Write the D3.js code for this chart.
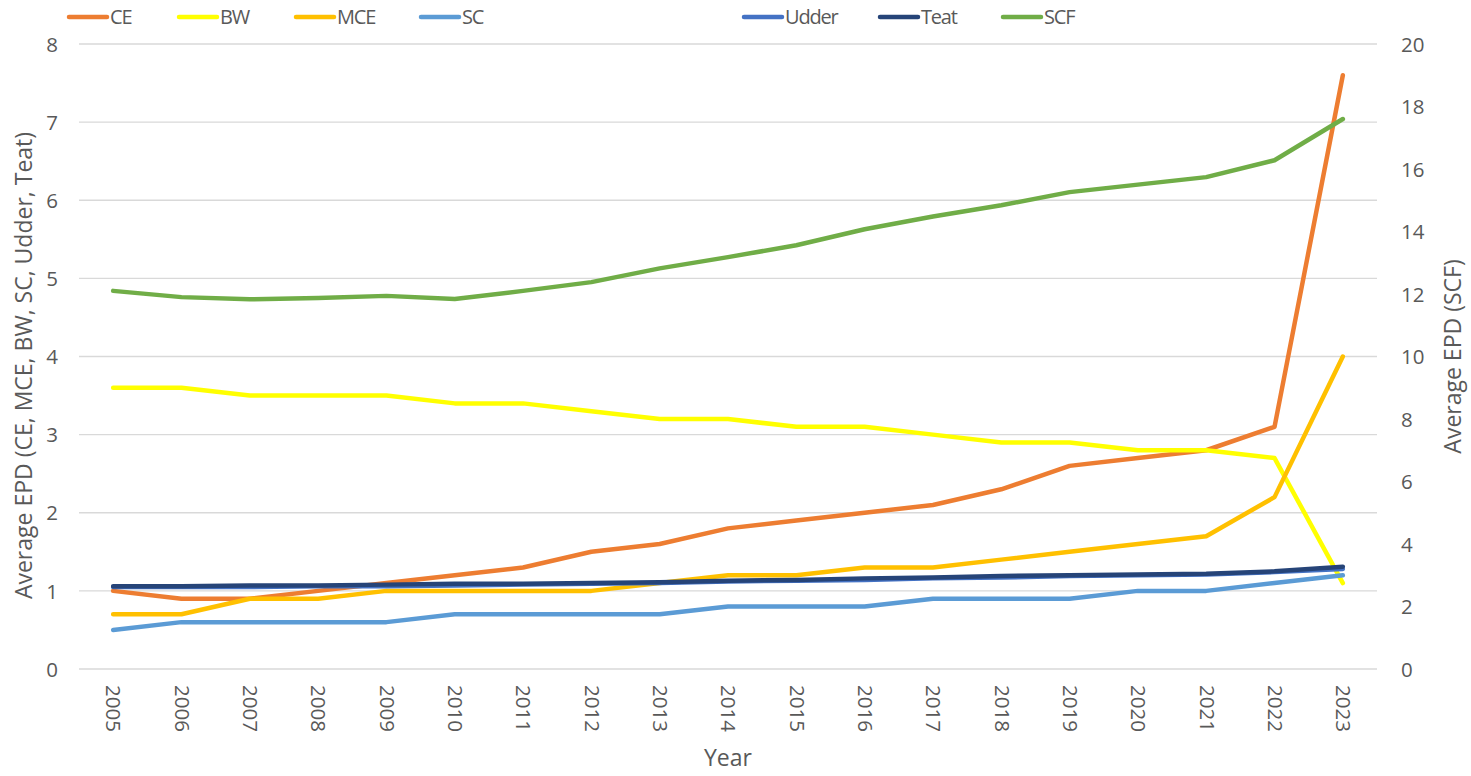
<!DOCTYPE html>
<html>
<head>
<meta charset="utf-8">
<script src="https://cdn.jsdelivr.net/npm/d3@7"></script>
<style>
  body { margin: 0; background: #fff; }
  text { font-family: "Open Sans", "Noto Sans", sans-serif; fill: #595959; }
</style>
</head>
<body>
<svg id="chart"></svg>
<script>
var width = 1471;
var height = 776;

var years = ['2005','2006','2007','2008','2009','2010','2011','2012','2013','2014',
             '2015','2016','2017','2018','2019','2020','2021','2022','2023'];

var ce    = [1.0,0.9,0.9,1.0,1.1,1.2,1.3,1.5,1.6,1.8,1.9,2.0,2.1,2.3,2.6,2.7,2.8,3.1,7.6];
var bw    = [3.6,3.6,3.5,3.5,3.5,3.4,3.4,3.3,3.2,3.2,3.1,3.1,3.0,2.9,2.9,2.8,2.8,2.7,1.1];
var mce   = [0.7,0.7,0.9,0.9,1.0,1.0,1.0,1.0,1.1,1.2,1.2,1.3,1.3,1.4,1.5,1.6,1.7,2.2,4.0];
var sc    = [0.5,0.6,0.6,0.6,0.6,0.7,0.7,0.7,0.7,0.8,0.8,0.8,0.9,0.9,0.9,1.0,1.0,1.1,1.2];
var udder = [1.05,1.05,1.05,1.06,1.06,1.07,1.08,1.09,1.10,1.12,1.13,1.14,1.16,1.17,1.19,1.20,1.21,1.24,1.28];
var teat  = [1.06,1.06,1.07,1.07,1.08,1.09,1.09,1.10,1.11,1.13,1.14,1.16,1.17,1.19,1.20,1.21,1.22,1.25,1.31];
var scf   = [12.1,11.9,11.83,11.87,11.94,11.84,12.1,12.38,12.82,13.18,13.56,14.07,14.48,14.84,15.26,15.5,15.74,16.28,17.6];

var leftTicks = [0,1,2,3,4,5,6,7,8];
var rightTicks = [0,2,4,6,8,10,12,14,16,18,20];

var series = [
  {name:'CE', values:ce, color:'#ED7D31', axis:'left'},
  {name:'BW', values:bw, color:'#FFFF00', axis:'left'},
  {name:'MCE', values:mce, color:'#FFC000', axis:'left'},
  {name:'SC', values:sc, color:'#5B9BD5', axis:'left'},
  {name:'Udder', values:udder, color:'#4472C4', axis:'left'},
  {name:'Teat', values:teat, color:'#264478', axis:'left'},
  {name:'SCF', values:scf, color:'#70AD47', axis:'right'}
];
// legend line start positions
var legendX = [69, 179, 296, 421, 744, 880, 1003];

var plotLeft = 79, plotRight = 1377, plotTop = 44, plotBottom = 669;

var svg = d3.select('#chart').attr('width', width).attr('height', height);

var x = d3.scalePoint().domain(years).range([plotLeft, plotRight]).padding(0.5);
var yL = d3.scaleLinear().domain([0, 8]).range([plotBottom, plotTop]);
var yR = d3.scaleLinear().domain([0, 20]).range([plotBottom, plotTop]);

// gridlines
svg.append('g').selectAll('line').data(leftTicks).enter().append('line')
  .attr('x1', plotLeft).attr('x2', plotRight)
  .attr('y1', function(d){ return yL(d); }).attr('y2', function(d){ return yL(d); })
  .style('stroke', '#d9d9d9').style('stroke-width', 1.3);

// left axis
var gl = svg.append('g').attr('transform', 'translate(' + (plotLeft - 21) + ',0)')
  .call(d3.axisLeft(yL).tickValues(leftTicks).tickSize(0).tickPadding(0));
gl.select('.domain').remove();
gl.selectAll('text').style('font-size', '20.5px').style('fill', '#595959').attr('dy', '0.35em');

// right axis
var gr = svg.append('g').attr('transform', 'translate(' + (plotRight + 24) + ',0)')
  .call(d3.axisRight(yR).tickValues(rightTicks).tickSize(0).tickPadding(0));
gr.select('.domain').remove();
gr.selectAll('text').style('font-size', '20.5px').style('fill', '#595959').attr('dy', '0.35em');

// x axis labels (rotated clockwise)
var gx = svg.append('g').attr('transform', 'translate(0,' + (plotBottom + 16) + ')')
  .call(d3.axisBottom(x).tickSize(0).tickPadding(0));
gx.select('.domain').remove();
gx.selectAll('text')
  .style('font-size', '20.5px').style('fill', '#595959')
  .attr('text-anchor', 'start')
  .attr('transform', 'rotate(90)')
  .attr('x', 0).attr('y', 0).attr('dy', '0.35em');

// axis titles
svg.append('text').attr('x', (plotLeft + plotRight) / 2).attr('y', 766)
  .attr('text-anchor', 'middle').style('font-size', '23px').text('Year');
svg.append('text').attr('transform', 'translate(32,' + ((plotTop + plotBottom) / 2 + 9) + ') rotate(-90)')
  .attr('text-anchor', 'middle').style('font-size', '23px')
  .text('Average EPD (CE, MCE, BW, SC, Udder, Teat)');
svg.append('text').attr('transform', 'translate(1461,' + ((plotTop + plotBottom) / 2) + ') rotate(-90)')
  .attr('text-anchor', 'middle').style('font-size', '23px')
  .text('Average EPD (SCF)');

// lines
series.forEach(function(s){
  var yy = s.axis === 'left' ? yL : yR;
  var line = d3.line()
    .x(function(d, i){ return x(years[i]); })
    .y(function(d){ return yy(d); });
  svg.append('path').datum(s.values)
    .attr('d', line)
    .style('fill', 'none')
    .style('stroke', s.color)
    .style('stroke-width', 4.5)
    .style('stroke-linecap', 'round')
    .style('stroke-linejoin', 'round');
});

// legend
var lg = svg.append('g');
series.forEach(function(s, i){
  lg.append('line')
    .attr('x1', legendX[i]).attr('x2', legendX[i] + 38)
    .attr('y1', 17).attr('y2', 17)
    .style('stroke', s.color).style('stroke-width', 4.5).style('stroke-linecap', 'round');
  lg.append('text')
    .attr('x', legendX[i] + 41).attr('y', 17).attr('dy', '0.35em')
    .style('font-size', '20px').style('letter-spacing', '-1.2px').text(s.name);
});
</script>
</body>
</html>
